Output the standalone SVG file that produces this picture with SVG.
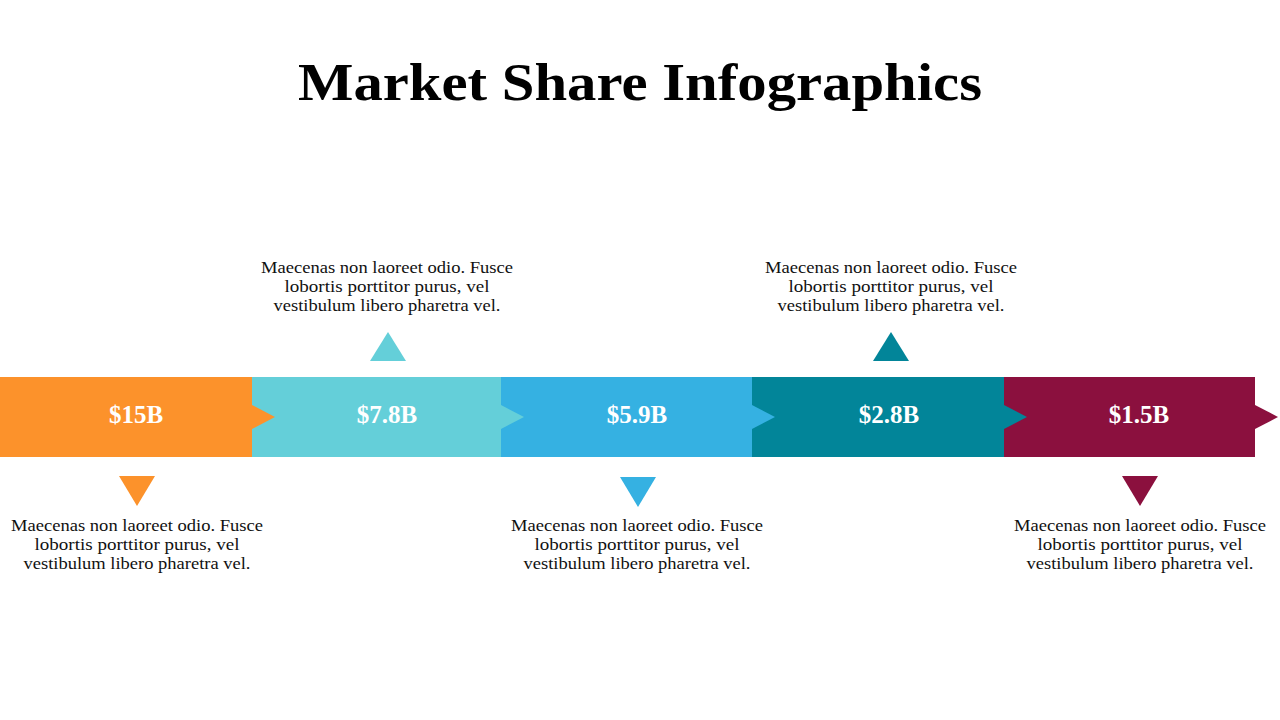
<svg xmlns="http://www.w3.org/2000/svg" width="1280" height="720" viewBox="0 0 1280 720">
<style>
.title{font-family:"Liberation Serif","DejaVu Serif",serif;font-weight:bold;font-size:52px;fill:#000;text-anchor:middle}
.val{font-family:"Liberation Serif","DejaVu Serif",serif;font-weight:bold;font-size:25px;fill:#fff;text-anchor:middle}
.desc{font-family:"Liberation Serif","DejaVu Serif",serif;font-size:17px;fill:#111;text-anchor:middle}
</style>
<rect width="1280" height="720" fill="#fff"/>
<text class="title" x="640" y="100" textLength="684" lengthAdjust="spacingAndGlyphs">Market Share Infographics</text>
<g id="connectors"></g>
<g id="node5">
<rect x="1004" y="377" width="251" height="80" fill="#8B103E"/>
<polygon points="1255,405 1278,417 1255,429" fill="#8B103E"/>
<text class="val" x="1139" y="423">$1.5B</text>
<polygon points="1122,476 1158,476 1140,506" fill="#8B103E"/>
<text class="desc" x="1140" y="531" textLength="252" lengthAdjust="spacingAndGlyphs">Maecenas non laoreet odio. Fusce</text>
<text class="desc" x="1140" y="550" textLength="205" lengthAdjust="spacingAndGlyphs">lobortis porttitor purus, vel</text>
<text class="desc" x="1140" y="569" textLength="227" lengthAdjust="spacingAndGlyphs">vestibulum libero pharetra vel.</text>
</g>
<g id="node4">
<rect x="752" y="377" width="252" height="80" fill="#028599"/>
<polygon points="1004,405 1027,417 1004,429" fill="#028599"/>
<text class="val" x="889" y="423">$2.8B</text>
<polygon points="873,361 909,361 891,332" fill="#028599"/>
<text class="desc" x="891" y="273" textLength="252" lengthAdjust="spacingAndGlyphs">Maecenas non laoreet odio. Fusce</text>
<text class="desc" x="891" y="292" textLength="205" lengthAdjust="spacingAndGlyphs">lobortis porttitor purus, vel</text>
<text class="desc" x="891" y="311" textLength="227" lengthAdjust="spacingAndGlyphs">vestibulum libero pharetra vel.</text>
</g>
<g id="node3">
<rect x="501" y="377" width="251" height="80" fill="#35B1E2"/>
<polygon points="752,405 775,417 752,429" fill="#35B1E2"/>
<text class="val" x="637" y="423">$5.9B</text>
<polygon points="620,477 656,477 638,507" fill="#35B1E2"/>
<text class="desc" x="637" y="531" textLength="252" lengthAdjust="spacingAndGlyphs">Maecenas non laoreet odio. Fusce</text>
<text class="desc" x="637" y="550" textLength="205" lengthAdjust="spacingAndGlyphs">lobortis porttitor purus, vel</text>
<text class="desc" x="637" y="569" textLength="227" lengthAdjust="spacingAndGlyphs">vestibulum libero pharetra vel.</text>
</g>
<g id="node2">
<rect x="252" y="377" width="249" height="80" fill="#64CFD9"/>
<polygon points="501,405 524,417 501,429" fill="#64CFD9"/>
<text class="val" x="387" y="423">$7.8B</text>
<polygon points="370,361 406,361 388,332" fill="#64CFD9"/>
<text class="desc" x="387" y="273" textLength="252" lengthAdjust="spacingAndGlyphs">Maecenas non laoreet odio. Fusce</text>
<text class="desc" x="387" y="292" textLength="205" lengthAdjust="spacingAndGlyphs">lobortis porttitor purus, vel</text>
<text class="desc" x="387" y="311" textLength="227" lengthAdjust="spacingAndGlyphs">vestibulum libero pharetra vel.</text>
</g>
<g id="node1">
<rect x="0" y="377" width="252" height="80" fill="#FC922B"/>
<polygon points="252,405 275,417 252,429" fill="#FC922B"/>
<text class="val" x="136" y="423">$15B</text>
<polygon points="119,476 155,476 137,506" fill="#FC922B"/>
<text class="desc" x="137" y="531" textLength="252" lengthAdjust="spacingAndGlyphs">Maecenas non laoreet odio. Fusce</text>
<text class="desc" x="137" y="550" textLength="205" lengthAdjust="spacingAndGlyphs">lobortis porttitor purus, vel</text>
<text class="desc" x="137" y="569" textLength="227" lengthAdjust="spacingAndGlyphs">vestibulum libero pharetra vel.</text>
</g>
</svg>
